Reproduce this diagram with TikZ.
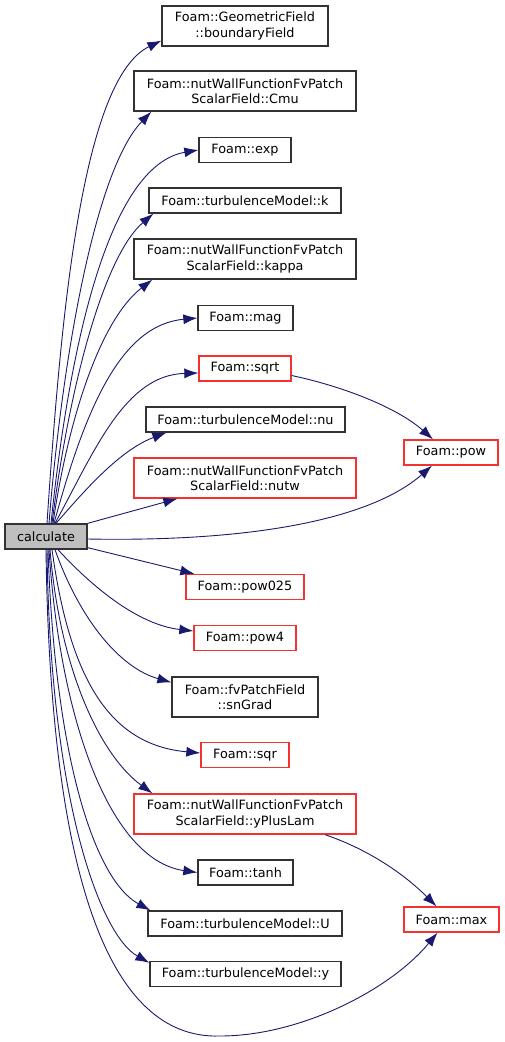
\documentclass[tikz,border=0pt]{standalone}
\usepackage{fontspec}
\setmainfont{DejaVu Sans}
\usetikzlibrary{arrows.meta}
\definecolor{edgeblue}{RGB}{25,25,112}
\definecolor{boxgray}{RGB}{50,50,50}
\definecolor{boxred}{RGB}{245,50,50}
\definecolor{rootfill}{RGB}{191,191,191}

\begin{document}
\begin{tikzpicture}[
  x=1pt, y=-1pt,
  font=\fontsize{12.8}{15.3}\selectfont,
  >={Latex[length=14pt,width=10pt]},
  fn/.style={draw=boxgray, line width=1.3pt, minimum height=25pt, inner xsep=2pt, inner ysep=1pt, align=center},
  fnred/.style={fn, draw=boxred},
  tall/.style={minimum height=40pt},
  root/.style={fn, fill=rootfill},
  arr/.style={->, draw=edgeblue, line width=0.9pt}
]
\useasboundingbox (0,0) rectangle (504,1042);

\node[root, minimum width=82pt] (calc) at (46,536.5) {calculate};
\node[fn, tall, minimum width=166pt] (bf) at (245,26) {Foam::GeometricField\\::boundaryField};
\node[fn, tall, minimum width=222pt] (cmu) at (245,91) {Foam::nutWallFunctionFvPatch\\ScalarField::Cmu};
\node[fn, minimum width=92pt] (fexp) at (245,150) {Foam::exp};
\node[fn, minimum width=192pt] (tk) at (245,200.5) {Foam::turbulenceModel::k};
\node[fn, tall, minimum width=222pt] (kappa) at (245,259) {Foam::nutWallFunctionFvPatch\\ScalarField::kappa};
\node[fn, minimum width=95pt] (fmag) at (245.5,318) {Foam::mag};
\node[fnred, minimum width=92pt] (fsqrt) at (245,368.5) {Foam::sqrt};
\node[fn, minimum width=199pt] (tnu) at (245.5,419.5) {Foam::turbulenceModel::nu};
\node[fnred, tall, minimum width=222pt] (nutw) at (245,478) {Foam::nutWallFunctionFvPatch\\ScalarField::nutw};
\node[fnred, minimum width=94pt] (fpow) at (451,452.5) {Foam::pow};
\node[fnred, minimum width=118pt] (pow025) at (245,587) {Foam::pow025};
\node[fnred, minimum width=102pt] (pow4) at (245,638) {Foam::pow4};
\node[fn, tall, minimum width=146pt] (sngrad) at (245,697) {Foam::fvPatchField\\::snGrad};
\node[fnred, minimum width=88pt] (fsqr) at (245,755) {Foam::sqr};
\node[fnred, tall, minimum width=222pt] (ypl) at (245,814) {Foam::nutWallFunctionFvPatch\\ScalarField::yPlusLam};
\node[fn, minimum width=95pt] (ftanh) at (245.5,872.5) {Foam::tanh};
\node[fn, minimum width=194pt] (uvel) at (245,923.5) {Foam::turbulenceModel::U};
\node[fnred, minimum width=95pt] (fmax) at (451.5,919.5) {Foam::max};
\node[fn, minimum width=191pt] (ywall) at (245.5,974) {Foam::turbulenceModel::y};

\draw[arr] ([xshift=1pt]calc.north) .. controls (60,330) and (80,80) .. ([yshift=6pt]bf.south west);
\draw[arr] ([xshift=3pt]calc.north) .. controls (62,360) and (95,170) .. ([xshift=18pt]cmu.south west);
\draw[arr] ([xshift=5pt]calc.north) .. controls (70,340) and (110,165) .. (fexp.west);
\draw[arr] ([xshift=6pt]calc.north) .. controls (70,380) and (105,255) .. ([xshift=5pt]tk.south west);
\draw[arr] ([xshift=7pt]calc.north) .. controls (68,420) and (100,320) .. ([xshift=19pt]kappa.south west);
\draw[arr] ([xshift=8pt]calc.north) .. controls (85,410) and (120,325) .. (fmag.west);
\draw[arr] ([xshift=9pt]calc.north) .. controls (95,450) and (125,375) .. ([yshift=-4.5pt]fsqrt.west);
\draw[arr] ([xshift=10pt]calc.north) .. controls (85,490) and (120,450) .. ([xshift=21pt]tnu.south west);
\draw[arr] (calc.north east) -- ([xshift=44pt]nutw.south west);
\draw[arr] ([yshift=-7pt]fsqrt.east) .. controls (350,388) and (400,410) .. ([xshift=-18pt]fpow.north);
\draw[arr] ([yshift=-2.5pt]calc.east) .. controls (250,542) and (370,520) .. ([xshift=-19pt]fpow.south);
\draw[arr] ([yshift=2pt]calc.south east) -- ([xshift=9pt]pow025.north west);
\draw[arr] ([xshift=12pt]calc.south) .. controls (95,590) and (140,625) .. ([yshift=7pt]pow4.west);
\draw[arr] ([xshift=9pt]calc.south) .. controls (80,620) and (120,668) .. ([yshift=-6pt]sngrad.north west);
\draw[arr] ([xshift=6pt]calc.south) .. controls (70,680) and (110,745) .. ([yshift=2pt]fsqr.west);
\draw[arr] ([xshift=4pt]calc.south) .. controls (60,670) and (100,755) .. ([xshift=19pt]ypl.north west);
\draw[arr] ([xshift=80pt]ypl.south) .. controls (370,850) and (405,875) .. ([xshift=-15pt]fmax.north);
\draw[arr] ([xshift=3pt]calc.south) .. controls (60,720) and (110,860) .. (ftanh.west);
\draw[arr] ([xshift=2pt]calc.south) .. controls (55,760) and (95,880) .. ([xshift=3pt]uvel.north west);
\draw[arr] ([xshift=1pt]calc.south) .. controls (50,800) and (100,935) .. ([yshift=-2pt]ywall.north west);
\draw[arr] (calc.south) .. controls (50,850) and (100,1040) .. (220,1036)
  .. controls (300,1036) and (390,990) .. ([xshift=-14pt]fmax.south);
\end{tikzpicture}
\end{document}
